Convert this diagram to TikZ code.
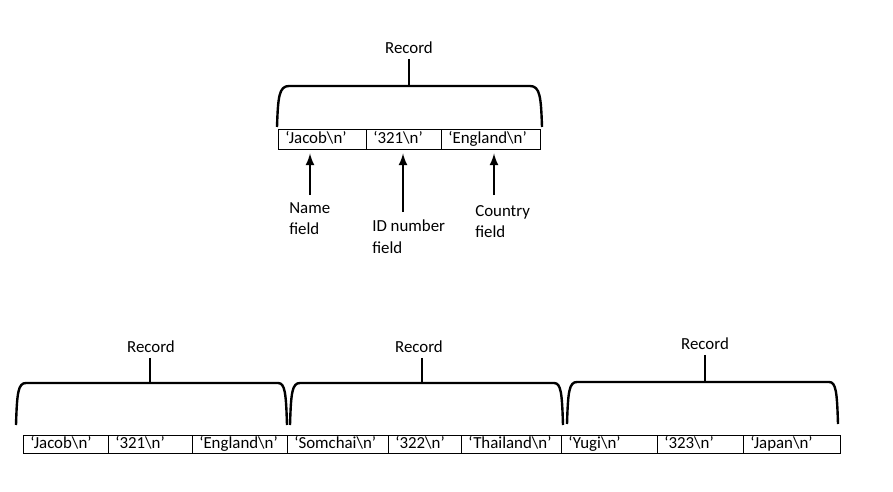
\documentclass[tikz,border=0pt]{standalone}
\usepackage{fontspec}
\setmainfont{Carlito}
\begin{document}
\begin{tikzpicture}[x=0.025cm,y=-0.025cm,
    every node/.style={font=\fontsize{12pt}{15pt}\selectfont},
    cell/.style={draw,line width=0.7pt,anchor=west,align=left,inner xsep=0.17cm,inner ysep=0pt,text height=8.5pt,text depth=2.5pt},
    bracket/.style={line width=1.7pt},
    fieldarrow/.style={line width=1.8pt,-latex,shorten >=0.1cm}]

            \useasboundingbox (0,0) rectangle (893,492);

            % one record
            \node (recA) at (409, 48) {Record};
            \draw[bracket] (277,127) .. controls (278,97) and (279,86) .. (289,86) -- (530,86) .. controls (540,86) and (541,97) .. (542,127);
            \coordinate (topA) at (408, 86);
            \draw[bracket] (recA.south) -- (recA.south |- topA);

            \node[cell,minimum height=0.5cm,text width=1.86cm] (name1) at (278, 139) {‘Jacob\textbackslash n’};
            \node[cell,minimum height=0.5cm,text width=1.535cm] (id1) at (366, 139) {‘321\textbackslash n’};
            \node[cell,minimum height=0.5cm,text width=2.135cm] (country1) at (441, 139) {‘England\textbackslash n’};

            \node[anchor=north west,align=left,inner sep=0pt] (lname) at (289, 202) {Name\\field};
            \node[anchor=north west,align=left,inner sep=0pt] (lid) at (372, 220) {ID number\\field};
            \node[anchor=north west,align=left,inner sep=0pt] (lcountry) at (475, 205) {Country\\field};

            \coordinate (tname) at (310, 195);
            \coordinate (tid) at (403, 212);
            \coordinate (tcountry) at (494, 195);
            \draw[fieldarrow] (tname) -- (tname |- name1.south);
            \draw[fieldarrow] (tid) -- (tid |- id1.south);
            \draw[fieldarrow] (tcountry) -- (tcountry |- country1.south);

            % three records in a row
            \node (recB) at (151, 347) {Record};
            \node (recC) at (419, 347) {Record};
            \node (recD) at (705, 344) {Record};

            \draw[bracket] (16,425) .. controls (17,393) and (18,383) .. (26,383) -- (278,383) .. controls (285,383) and (286,393) .. (287,425);
            \draw[bracket] (290,425) .. controls (291,393) and (292,383) .. (300,383) -- (554,383) .. controls (561,383) and (562,393) .. (563,425);
            \draw[bracket] (567,424) .. controls (568,392) and (569,382) .. (577,382) -- (829,382) .. controls (836,382) and (837,392) .. (838,424);
            \coordinate (topB) at (150, 383);
            \coordinate (topC) at (422, 383);
            \coordinate (topD) at (705, 382);
            \draw[bracket] (recB.south -| topB) -- (topB);
            \draw[bracket] (recC.south -| topC) -- (topC);
            \draw[bracket] (recD.south -| topD) -- (topD);

            \node[cell,minimum height=0.45cm,text width=1.785cm] (name2) at (23, 444) {‘Jacob\textbackslash n’};
            \node[cell,minimum height=0.45cm,text width=1.76cm] (id2) at (108, 444) {‘321\textbackslash n’};
            \node[cell,minimum height=0.45cm,text width=2.035cm] (country2) at (192, 444) {‘England\textbackslash n’};
            \node[cell,minimum height=0.45cm,text width=2.185cm] (name3) at (287, 444) {‘Somchai\textbackslash n’};
            \node[cell,minimum height=0.45cm,text width=1.485cm] (id3) at (388, 444) {‘322\textbackslash n’};
            \node[cell,minimum height=0.45cm,text width=2.16cm] (country3) at (461, 444) {‘Thailand\textbackslash n’};
            \node[cell,minimum height=0.45cm,text width=2.06cm] (name4) at (561, 444) {‘Yugi\textbackslash n’};
            \node[cell,minimum height=0.45cm,text width=1.81cm] (id4) at (657, 444) {‘323\textbackslash n’};
            \node[cell,minimum height=0.45cm,text width=2.085cm] (country4) at (743, 444) {‘Japan\textbackslash n’};
        \end{tikzpicture}
\end{document}
